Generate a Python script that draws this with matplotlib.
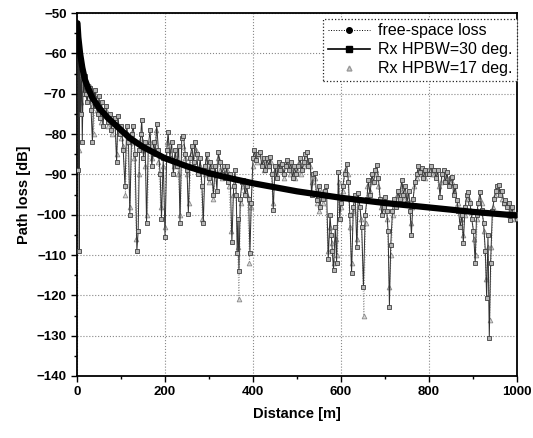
import matplotlib
matplotlib.use("Agg")
import matplotlib.pyplot as plt
from matplotlib.lines import Line2D
from matplotlib.ticker import MultipleLocator

plt.rcParams['font.family'] = ['Liberation Sans', 'DejaVu Sans']

# free-space loss
d_fs = [1, 3, 7, 12, 18, 25, 35, 50, 70, 90, 120, 150, 200, 250, 300, 350,
        400, 500, 600, 700, 800, 900, 1000]
fs_loss = [-52.5, -56, -60, -63.5, -66.5, -68.5, -71, -73.5, -76, -78, -81,
           -83.2, -86, -88, -89.7, -91, -92.2, -94.2, -95.8, -97.1, -98.2,
           -99.3, -100.2]

# Rx HPBW = 30 deg
d_30 = [1, 2, 3, 4, 5, 6, 8, 10, 12, 14, 16, 18, 20, 23, 26, 29, 32, 35, 38,
        41, 44, 47, 50, 53, 56, 59,
        62, 66, 70, 74, 78, 82, 86, 90, 93, 97, 101, 105, 109, 113, 117, 120,
        124, 128, 132, 136, 139, 142, 145, 147, 151, 155, 158, 162, 166, 170,
        174, 178, 181, 185, 189, 192, 196, 200,
        204, 207, 211, 215, 219, 223, 227, 231, 234, 238, 242, 246, 250, 253,
        257, 261, 265, 268, 272, 276, 280, 284, 287, 291, 295, 299, 303, 306,
        310, 314, 318, 321, 325, 329, 333, 337, 340, 344, 348, 352, 356, 359,
        362, 364, 366, 368, 371, 375, 378, 382, 386, 390, 393, 396,
        400, 403, 407, 411, 416, 420, 424, 428, 432, 436, 439, 443, 446, 450,
        454, 458, 462, 466, 470, 474, 478, 482, 486, 490, 494, 498, 503, 507,
        511, 515, 519, 522, 526, 530, 533, 537, 541, 545, 549, 552, 556, 560,
        563, 567, 571, 575, 578, 580, 583, 587, 590, 594, 597,
        600, 604, 608, 613, 617, 620, 624, 628, 632, 636, 639, 643, 647, 651,
        655, 659, 662, 666, 670, 674, 678, 681, 685, 689, 693, 697, 700, 704,
        707, 710, 713, 717, 721, 725, 729, 733, 738, 742, 746, 750, 754, 757,
        760, 764, 768, 772, 776, 780, 783, 787, 791, 795,
        800, 804, 808, 812, 816, 820, 825, 829, 833, 837, 841, 845, 849, 852,
        856, 860, 863, 867, 871, 875, 878, 882, 886, 889, 893, 897, 901, 905,
        908, 912, 916, 920, 924, 928, 931, 934, 937, 940, 944, 948, 952, 955,
        958, 962, 966, 970, 973, 977, 981, 984, 988, 992, 995, 999]
loss_30 = [-52.5, -55, -89, -58, -109, -61, -75, -63, -82, -66, -70, -65.5, -70,
           -72, -69, -68.5, -74, -82, -71, -69, -73, -75, -70.5, -76, -72, -78,
           -74, -73, -77, -75, -79, -76, -76, -87, -75.5, -80, -78, -84, -93,
           -78, -82, -100, -80, -78, -85, -109, -104, -84, -80, -76.5, -86,
           -82, -102, -83, -79, -88, -82, -85, -77.5, -84, -90, -101, -86,
           -105.5,
           -84, -79.5, -86, -82, -90, -84, -88, -83, -102, -81, -80.5, -85,
           -89, -99.7, -86, -83, -87, -82, -85, -90, -86, -93, -102, -88, -85,
           -91, -87, -89, -95, -88, -94, -84.5, -87, -90, -88, -91, -88, -92,
           -90, -106.7, -93, -89, -95, -109.5, -101, -114, -96, -92, -91.4,
           -95, -93, -96, -109.5, -97,
           -86, -84, -86.5, -85, -84.4, -88, -86, -89, -86, -88, -85.6, -90,
           -98.8, -88, -91, -87, -89, -87.5, -90, -88, -86.5, -89, -87, -91,
           -88, -90, -88, -86, -89, -87, -85, -84.4, -88, -86.5, -95, -90,
           -89.7, -96.4, -93, -98, -95, -96, -94, -93, -111, -100, -105, -109,
           -113.7, -103, -112, -89.3, -101,
           -97, -93, -90, -87.3, -92, -100, -114.5, -98, -95, -108, -94.7, -98,
           -103, -117.9, -100, -96, -91.4, -95, -90, -92, -89, -87.7, -91, -96,
           -100, -98, -95.5, -99, -104, -122.8, -107.5, -99, -96, -98, -94,
           -96, -91.4, -95, -93, -97, -94, -99, -105, -96, -92, -90, -88,
           -89.5, -88.5, -91, -89, -90,
           -90, -88, -89, -88.9, -91, -89, -95.5, -90, -88.9, -92, -89.5, -93,
           -91, -90.6, -95, -93, -96.4, -99, -103, -100, -107, -98, -95, -94.3,
           -97, -101, -104, -112, -100, -97, -94.3, -98.8, -102, -109, -120.7,
           -105, -130.7, -112, -99, -96, -94, -93, -92.6, -95, -94, -97, -96.4,
           -98, -97, -101.3, -98, -100, -99.7, -101]

# Rx HPBW = 17 deg
d_17 = [1, 3, 5, 7, 9, 12, 15, 18, 22, 26, 30, 34, 38, 42, 46, 50, 55, 60, 65,
        70, 75, 80, 85, 90, 95, 100,
        105, 110, 115, 120, 125, 130, 135, 140, 145, 150, 155, 160, 165, 170,
        175, 180, 185, 190, 195, 200,
        205, 210, 215, 220, 225, 230, 235, 240, 245, 250, 255, 260, 265, 270,
        275, 280, 285, 290, 295, 300, 305, 310, 315, 320, 325, 330, 335, 340,
        345, 350, 355, 360, 365, 368, 372, 377, 382, 387, 392, 396,
        400, 405, 410, 415, 420, 425, 430, 435, 440, 445, 450, 455, 460, 465,
        470, 475, 480, 485, 490, 495, 500, 505, 510, 515, 520, 525, 530, 535,
        540, 545, 550, 555, 560, 565, 570, 575, 580, 584, 588, 592, 596,
        600, 605, 610, 615, 620, 624, 628, 633, 637, 641, 646, 652, 656, 660,
        665, 670, 675, 680, 685, 690, 695, 700, 705, 710, 714, 718, 723, 728,
        733, 738, 743, 748, 753, 758, 762, 767, 772, 777, 782, 787, 792, 797,
        802, 807, 812, 817, 822, 827, 832, 837, 842, 847, 852, 857, 862, 867,
        872, 877, 882, 887, 892, 897, 902, 906, 910, 915, 920, 925, 930, 934,
        938, 942, 946, 951, 956, 961, 966, 971, 976, 981, 986, 991, 996, 999]
loss_17 = [-53, -60, -84, -62, -72, -66, -69, -66, -70, -71, -68, -73, -80, -70,
           -74, -72, -77, -75, -74, -78, -76, -80, -77, -85, -78, -81,
           -83, -95, -80, -98, -82, -86, -106, -90, -81, -84, -88, -100, -82,
           -86, -84, -79, -87, -98, -88, -103,
           -82, -84, -86, -88, -85, -90, -100, -83, -86, -90, -97, -85, -88,
           -84, -89, -88, -101, -90, -86, -92, -88, -96, -90, -86, -89, -91,
           -90, -89, -93, -104, -95, -91, -108, -121, -97, -93, -94, -95, -112,
           -98,
           -88, -85, -87, -85, -87, -89, -87, -88, -87, -97, -89, -90, -88, -89,
           -91, -87, -88, -90, -89, -91, -89, -87, -90, -88, -86, -87, -88, -92,
           -91, -97, -99, -94, -97, -95, -109, -103, -107, -112, -106, -110,
           -92,
           -98, -94, -89, -90, -103, -112, -99, -96, -106, -96, -101, -125,
           -102, -93, -94, -92, -90, -89, -93, -98, -99, -97, -101, -118, -110,
           -100, -97, -95, -94, -93, -96, -95, -96, -102, -98, -93, -91, -89,
           -90, -90, -91, -89,
           -89, -90, -90, -90, -93, -92, -90, -91, -91, -92, -92, -94, -98, -97,
           -101, -105, -100, -96, -96, -99, -106, -110, -101, -96, -97, -104,
           -116, -108, -126, -108, -98, -95, -94, -94, -96, -97, -97, -100, -99,
           -99, -101, -100]

fig, ax = plt.subplots(figsize=(5.33, 4.38), dpi=100)
fig.subplots_adjust(left=0.1445, right=0.970, top=0.970, bottom=0.1416)

ax.plot(d_17, loss_17, color='#9a9a9a', lw=0.7, ls=':', marker='^', ms=3.4,
        mfc='#d8d8d8', mec='#8a8a8a', mew=0.6, zorder=2)
ax.plot(d_30, loss_30, color='#303030', lw=0.7, marker='s', ms=3.0,
        mfc='#b4b4b4', mec='#404040', mew=0.6, zorder=3)
ax.plot(d_fs, fs_loss, color='black', lw=4.5, solid_capstyle='round', zorder=4)

ax.set_xlim(0, 1000)
ax.set_ylim(-140, -50)
ax.xaxis.set_major_locator(MultipleLocator(200))
ax.xaxis.set_minor_locator(MultipleLocator(100))
ax.yaxis.set_major_locator(MultipleLocator(10))
ax.yaxis.set_minor_locator(MultipleLocator(5))
ax.tick_params(which='both', direction='out', top=False, right=False)
ax.tick_params(which='major', length=4, width=1, labelsize=9.5)
ax.tick_params(which='minor', length=2.5, width=1)
for lab in ax.get_xticklabels() + ax.get_yticklabels():
    lab.set_fontweight('bold')
ax.grid(True, which='major', color='#888888', ls=':', lw=0.8)
for sp in ax.spines.values():
    sp.set_linewidth(1.3)

ax.set_xlabel("Distance [m]", fontsize=10.5, fontweight='bold', labelpad=6)
ax.set_ylabel("Path loss [dB]", fontsize=10.5, fontweight='bold', labelpad=4)

handles = [
    Line2D([], [], color='black', lw=0.7, ls=':', marker='o', ms=4),
    Line2D([], [], color='black', lw=1.2, marker='s', ms=4),
    Line2D([], [], color='#999999', lw=0, marker='^', ms=3.5, mfc='#d0d0d0'),
]
labels = ["free-space loss", "Rx HPBW=30 deg.", "Rx HPBW=17 deg."]
leg = ax.legend(handles, labels, loc='upper right', fontsize=11.5,
                fancybox=False, framealpha=1, edgecolor='#222222',
                bbox_to_anchor=(1.0, 0.985), borderaxespad=0.0,
                handlelength=2.6, labelspacing=0.25, borderpad=0.3,
                handletextpad=0.5)
leg.get_frame().set_linewidth(0.9)
leg.get_frame().set_linestyle(':')

fig.savefig("out.png", dpi=100)
